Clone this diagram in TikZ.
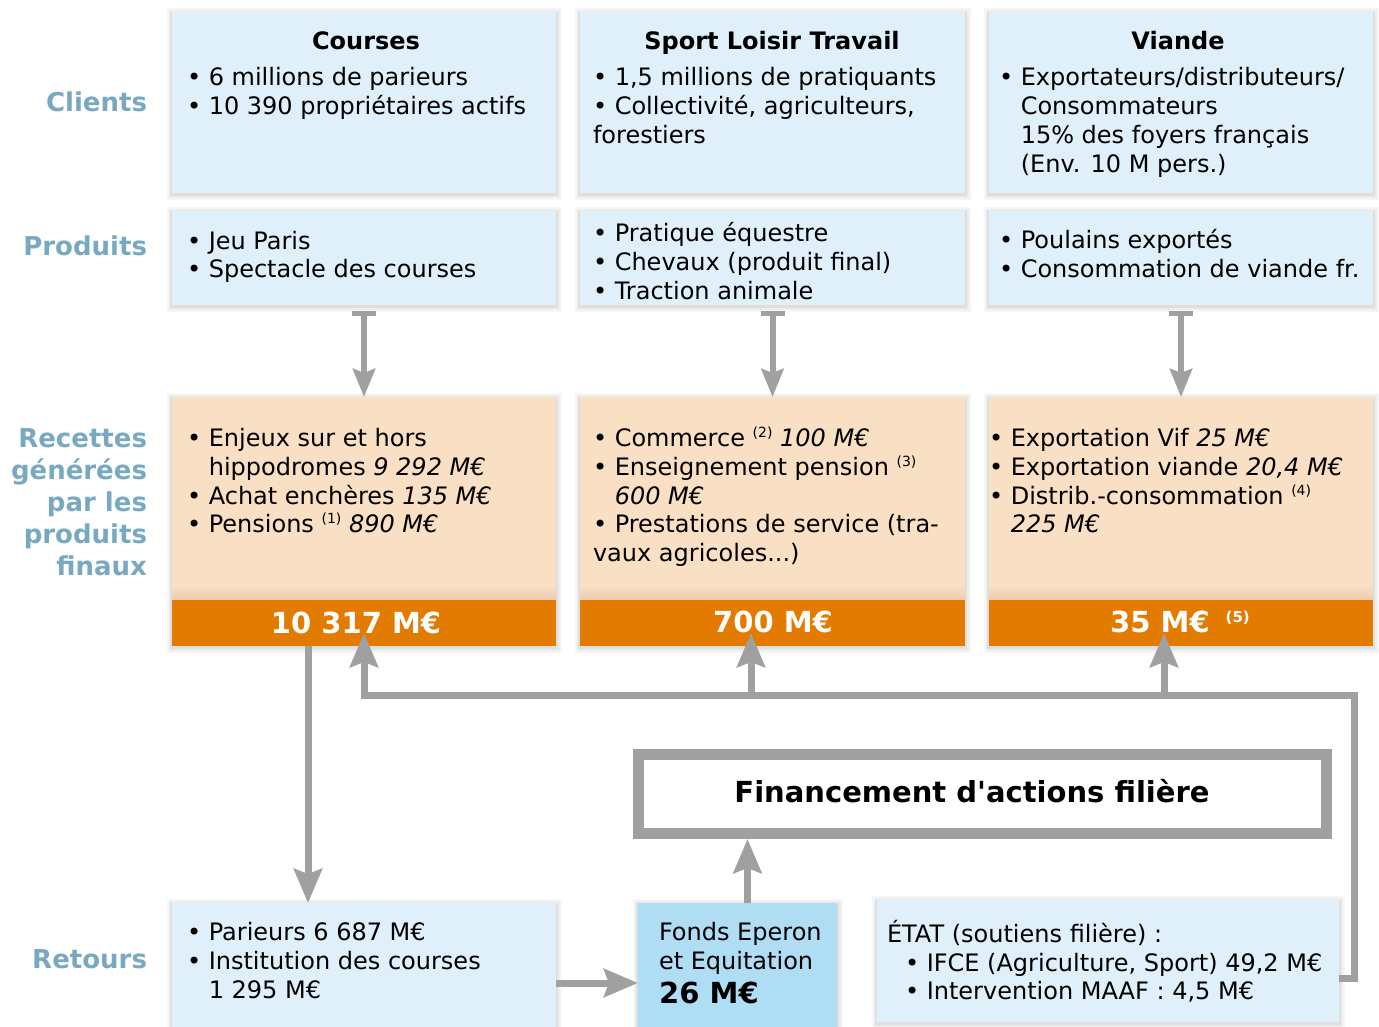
\documentclass[tikz,border=0pt]{standalone}
\usepackage{fontspec}
\setmainfont{DejaVu Sans}[ItalicFont={DejaVu Sans Oblique},BoldFont={DejaVu Sans Bold},BoldItalicFont={DejaVu Sans Bold Oblique}]
\newfontfamily\plainf{DejaVu Sans}[BoldFont={DejaVu Sans Bold}]
\usetikzlibrary{arrows.meta,calc}
\definecolor{lblue}{HTML}{DFF0FA}
\definecolor{fblue}{HTML}{AFDDF3}
\definecolor{peach}{HTML}{F9DFC3}
\definecolor{peachd}{HTML}{E8CCAE}
\definecolor{orng}{HTML}{E37B00}
\definecolor{agray}{HTML}{A0A0A0}
\definecolor{labc}{HTML}{79A9C1}
\newcommand\Tx[4]{\node[txt,anchor=base west] (#1) at (#2,#3) {#4};}
\newcommand\mysup[1]{\raisebox{9pt}{\fontsize{14}{14}\selectfont(#1)}}
\begin{document}
\begin{tikzpicture}[x=1pt,y=-1pt,
  softsh/.style={
    preaction={draw=black,draw opacity=0.035,line width=11pt,transform canvas={yshift=-1.5pt}},
    preaction={draw=black,draw opacity=0.04,line width=7pt,transform canvas={yshift=-1.5pt}},
    preaction={draw=black,draw opacity=0.05,line width=3.5pt,transform canvas={yshift=-1.5pt}}},
  box/.style={inner sep=0pt,outer sep=0pt,softsh},
  bluebox/.style={box,fill=lblue},
  peachbox/.style={box,fill=peach},
  orangebar/.style={inner sep=0pt,outer sep=0pt,fill=orng},
  txt/.style={inner sep=0pt,outer sep=0pt,font=\fontsize{24}{29}\selectfont},
  ttl/.style={inner sep=0pt,outer sep=0pt,font=\fontsize{24}{29}\selectfont\bfseries},
  wtxt/.style={inner sep=0pt,outer sep=0pt,text=white,font=\fontsize{29}{31}\selectfont\bfseries},
  lab/.style={inner sep=0pt,outer sep=0pt,text=labc,anchor=base east,font=\fontsize{26}{32}\selectfont\bfseries},
  conn/.style={draw=agray,line width=7pt,-{Stealth[length=34pt,width=28pt,inset=5pt]}},
  sconn/.style={draw=agray,line width=6pt,{Bar[width=24pt,line width=5pt]}-{Stealth[length=28pt,width=22pt,inset=4pt]}},
]
\useasboundingbox (0,0) rectangle (1379,1026);
\fill[white] (0,0) rectangle (1379,1026);

% ---- left labels
\node[lab] (lcli) at (147,111) {Clients};
\node[lab] (lpro) at (147,255) {Produits};
\node[lab] (lrec1) at (147,447) {Recettes};
\node[lab] (lrec2) at (147,479) {générées};
\node[lab] (lrec3) at (147,511) {par les};
\node[lab] (lrec4) at (147,543) {produits};
\node[lab] (lrec5) at (147,575) {finaux};
\node[lab] (lret) at (147,968) {Retours};

% ---- clients row
\node[bluebox,minimum width=384pt,minimum height=181pt] (cc) at (364,102.5) {};
\node[bluebox,minimum width=385pt,minimum height=181pt] (sc) at (772.5,102.5) {};
\node[bluebox,minimum width=384pt,minimum height=181pt] (vc) at (1181,102.5) {};
% ---- produits row
\node[bluebox,minimum width=384pt,minimum height=94pt] (cp) at (364,258) {};
\node[bluebox,minimum width=385pt,minimum height=94pt] (sp) at (772.5,258) {};
\node[bluebox,minimum width=384pt,minimum height=94pt] (vp) at (1181,258) {};
% ---- recettes row
\node[peachbox,minimum width=384pt,minimum height=249pt] (cr) at (364,521.5) {};
\node[peachbox,minimum width=385pt,minimum height=249pt] (sr) at (772.5,521.5) {};
\node[peachbox,minimum width=384pt,minimum height=249pt] (vr) at (1181,521.5) {};
\shade[top color=peach,bottom color=peachd] (172,586) rectangle (556,600);
\shade[top color=peach,bottom color=peachd] (580,586) rectangle (965,600);
\shade[top color=peach,bottom color=peachd] (989,586) rectangle (1373,600);
\node[orangebar,minimum width=384pt,minimum height=46pt] (ob1) at (364,623) {};
\node[orangebar,minimum width=385pt,minimum height=46pt] (ob2) at (772.5,623) {};
\node[orangebar,minimum width=384pt,minimum height=46pt] (ob3) at (1181,623) {};
% ---- retours row
\node[bluebox,minimum width=384pt,minimum height=137pt] (r1) at (364,971.5) {};
\node[box,fill=fblue,minimum width=199pt,minimum height=137pt] (fonds) at (737.5,971.5) {};
\node[bluebox,minimum width=462pt,minimum height=122pt] (etat) at (1108,961) {};
% ---- financement
\node[draw=agray,line width=11pt,fill=white,inner sep=0pt,minimum width=688pt,minimum height=79pt] (fin) at (982,794) {};
\node[inner sep=0pt,anchor=base,font=\fontsize{29}{32}\plainf\bfseries] (fint) at (972,802) {Financement d'actions filière};

% ---- texts: clients
\node[ttl,anchor=base] (cct) at (366,49) {Courses};
\Tx{cc1}{187}{85}{• 6 millions de parieurs}
\Tx{cc2}{187}{114}{• 10 390 propriétaires actifs}
\node[ttl,anchor=base] (sct) at (772,49) {Sport Loisir Travail};
\Tx{sc1}{593}{85}{• 1,5 millions de pratiquants}
\Tx{sc2}{593}{114}{• Collectivité, agriculteurs,}
\Tx{sc3}{593}{143}{forestiers}
\node[ttl,anchor=base] (vct) at (1178,49) {Viande};
\Tx{vc1}{999}{85}{• Exportateurs/distributeurs/}
\Tx{vc2}{999}{114}{\phantom{•}~Consommateurs}
\Tx{vc3}{999}{143}{\phantom{•}~15\% des foyers français}
\Tx{vc4}{999}{172}{\phantom{•}~(Env. 10 M pers.)}
% produits
\Tx{cp1}{187}{249}{• Jeu Paris}
\Tx{cp2}{187}{277}{• Spectacle des courses}
\Tx{sp1}{593}{241}{• Pratique équestre}
\Tx{sp2}{593}{270}{• Chevaux (produit final)}
\Tx{sp3}{593}{299}{• Traction animale}
\Tx{vp1}{999}{248}{• Poulains exportés}
\Tx{vp2}{999}{277}{• Consommation de viande fr.}
% recettes
\Tx{cr1}{187}{446}{• Enjeux sur et hors}
\Tx{cr2}{187}{475}{\phantom{•}~hippodromes \textit{9 292 M€}}
\Tx{cr3}{187}{504}{• Achat enchères \textit{135 M€}}
\Tx{cr4}{187}{532}{• Pensions \mysup{1} \textit{890 M€}}
\Tx{sr1}{593}{446}{• Commerce \mysup{2} \textit{100 M€}}
\Tx{sr2}{593}{475}{• Enseignement pension \mysup{3}}
\Tx{sr3}{593}{504}{\phantom{•}~\textit{600 M€}}
\Tx{sr4}{593}{532}{• Prestations de service (tra-}
\Tx{sr5}{593}{561}{vaux agricoles...)}
\Tx{vr1}{989}{446}{• Exportation Vif \textit{25 M€}}
\Tx{vr2}{989}{475}{• Exportation viande \textit{20,4 M€}}
\Tx{vr3}{989}{504}{• Distrib.-consommation \mysup{4}}
\Tx{vr4}{989}{532}{\phantom{•}~\textit{225 M€}}
% orange totals
\node[wtxt,anchor=base] (ob1t) at (356,633) {10 317 M€};
\node[wtxt,anchor=base] (ob2t) at (773,632) {700 M€};
\node[wtxt,anchor=base] (ob3t) at (1180,632) {35 M€\hspace{16pt}\raisebox{10pt}{\fontsize{15}{15}\selectfont(5)}};
% retours
\Tx{r1a}{187}{940}{• Parieurs 6 687 M€}
\Tx{r1b}{187}{969}{• Institution des courses}
\Tx{r1c}{187}{998}{\phantom{•}~1 295 M€}
\Tx{fo1}{659}{940}{Fonds Eperon}
\Tx{fo2}{659}{969}{et Equitation}
\node[inner sep=0pt,anchor=base west,font=\fontsize{29}{32}\selectfont\bfseries] (fo3) at (659,1003) {26 M€};
\Tx{et1}{887}{942}{ÉTAT (soutiens filière) :}
\Tx{et2}{905}{971}{• IFCE (Agriculture, Sport) 49,2 M€}
\Tx{et3}{905}{999}{• Intervention MAAF : 4,5 M€}

% ---- connectors
\draw[sconn] ($(cp.south)+(0,6)$) -- (cr.north);
\draw[sconn] ($(sp.south)+(0,6)$) -- (sr.north);
\draw[sconn] ($(vp.south)+(0,6)$) -- (vr.north);
\coordinate (dn1) at ($(ob1.south)+(-56,0)$);
\coordinate (dn2) at ($(r1.north)+(-56,0)$);
\draw[conn] (dn1) -- (dn2);
\coordinate (hy) at (0,983);
\draw[conn] (r1.east |- hy) -- (fonds.west |- hy);
\coordinate (fup) at ($(fonds.north)+(10,0)$);
\draw[conn] (fup) -- (fup |- fin.south);
\coordinate (fbs) at ($(etat.east)+(0,17)$);
\coordinate (fbr) at (1354,695);
\coordinate (fb2) at (751,695);
\coordinate (fb3) at (1164,695);
\coordinate (t1) at ($(ob1.south)+(0,-13)$);
\coordinate (t2) at ($(ob2.south)+(-21.5,-13)$);
\coordinate (t3) at ($(ob3.south)+(-17,-13)$);
\draw[conn,line join=miter] (fbs) -| (fbr) -| (t1);
\draw[conn] (fb2) -- (t2);
\draw[conn] (fb3) -- (t3);
\end{tikzpicture}
\end{document}
